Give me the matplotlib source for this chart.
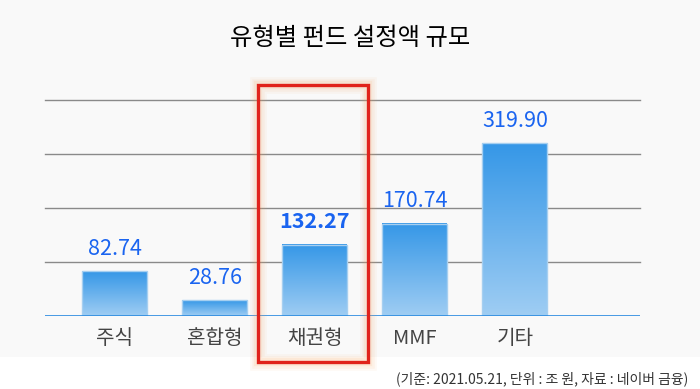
import matplotlib
matplotlib.use("Agg")
import matplotlib.pyplot as plt
import numpy as np
from matplotlib.patches import Rectangle
from matplotlib.colors import LinearSegmentedColormap

plt.rcParams['font.family'] = ['Noto Sans CJK KR', 'DejaVu Sans']

categories = ['주식', '혼합형', '채권형', 'MMF', '기타']
values = [82.74, 28.76, 132.27, 170.74, 319.90]
value_labels = ['82.74', '28.76', '132.27', '170.74', '319.90']
highlight = 2
title = '유형별 펀드 설정액 규모'
footer = '(기준: 2021.05.21, 단위 : 조 원, 자료 : 네이버 금융)'

fig = plt.figure(figsize=(7, 3.89), dpi=100)
fig.patch.set_facecolor('white')
# light background panel
fig.add_artist(Rectangle((0, 1 - 357/389), 1, 357/389, transform=fig.transFigure,
                         facecolor='#f9f9f9', edgecolor='none', zorder=0))

ax = fig.add_axes([45/700, 73/389, 595/700, 216/389])
ax.set_facecolor('none')
ax.set_xlim(-0.7, 5.25)
ax.set_ylim(0, 400)
for s in ax.spines.values():
    s.set_visible(False)
ax.set_yticks([])

for gy in [100, 200, 300, 400]:
    ax.axhline(gy, color='#8a8a8a', lw=1, zorder=1, clip_on=False)
ax.axhline(0, color='#2a8ae0', lw=1.2, zorder=4)

cmap = LinearSegmentedColormap.from_list('g', ['#9fcdf3', '#3597e7'])
grad = np.linspace(0, 1, 256).reshape(-1, 1)
w = 0.65
x = np.arange(len(categories))
bars = ax.bar(x, values, width=w, color='none', edgecolor='#a6cff0', lw=1, zorder=3)
for b in bars:
    x0, y0 = b.get_x(), b.get_y()
    bw, bh = b.get_width(), b.get_height()
    ax.imshow(grad, cmap=cmap, origin='lower', aspect='auto',
              extent=[x0, x0 + bw, y0, y0 + bh], zorder=2, interpolation='bicubic')
ax.set_xlim(-0.7, 5.25)
ax.set_ylim(0, 400)

for i, (v, lab) in enumerate(zip(values, value_labels)):
    ax.annotate(lab, (x[i], v), xytext=(0, 12), textcoords='offset points',
                ha='center', va='baseline', fontsize=15.5, color='#1a64f0',
                fontweight='bold' if i == highlight else 'normal', zorder=5)

ax.set_xticks(x)
ax.set_xticklabels(categories, fontsize=14.5, color='#444444')
ax.tick_params(axis='x', length=0, pad=9)

# highlight box around bond funds
bx0 = 258/700; bx1 = 368/700
by0 = 1 - 362/389; by1 = 1 - 85/389
for lw, a in [(12, 0.06), (9, 0.08), (6, 0.12)]:
    fig.add_artist(Rectangle((bx0, by0), bx1 - bx0, by1 - by0, transform=fig.transFigure,
                             facecolor='none', edgecolor='#f5a25a', lw=lw, alpha=a, zorder=5))
fig.add_artist(Rectangle((bx0, by0), bx1 - bx0, by1 - by0, transform=fig.transFigure,
                         facecolor='none', edgecolor='#e0231b', lw=2.4, zorder=6))

fig.text(0.5, 1 - 38/389, title, ha='center', va='center', fontsize=17.5,
         color='#000000', fontweight='normal')
fig.text(688/700, 1 - 379/389, footer, ha='right', va='center', fontsize=10,
         color='#333333')

fig.savefig('out.png', dpi=100, facecolor=fig.get_facecolor())
